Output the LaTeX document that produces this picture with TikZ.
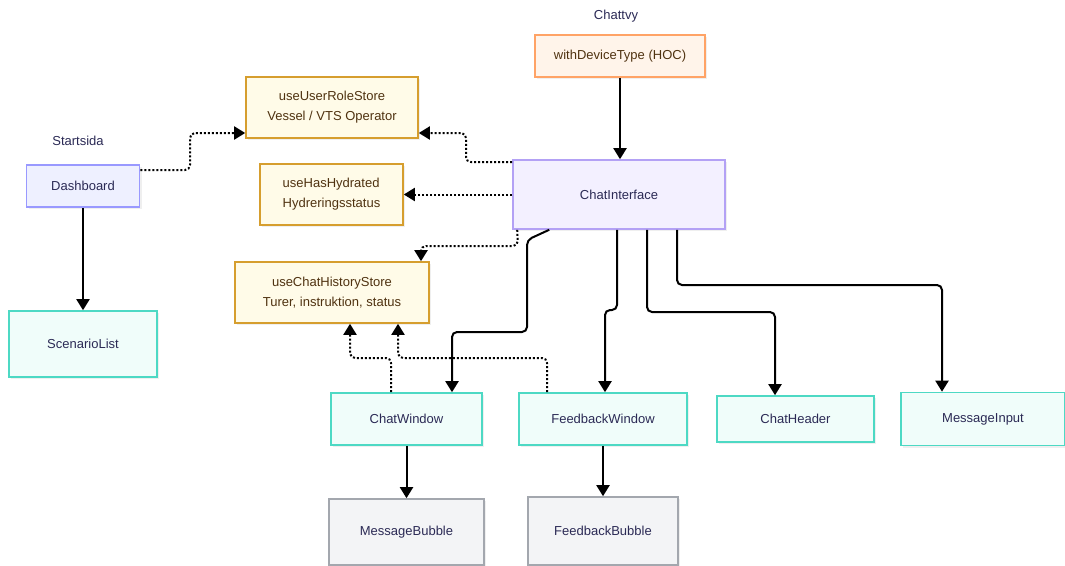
\documentclass[tikz,border=0pt]{standalone}
\usepackage{fontspec}
\setmainfont{Liberation Sans}
\usetikzlibrary{arrows.meta,shadows}
\definecolor{txt}{HTML}{2B2A55}
\definecolor{brown}{HTML}{4F3210}
\definecolor{orF}{HTML}{FFF4EA}\definecolor{orD}{HTML}{FFA366}
\definecolor{yeF}{HTML}{FFFBE8}\definecolor{yeD}{HTML}{D69E2E}
\definecolor{laF}{HTML}{F3F0FF}\definecolor{laD}{HTML}{B3A1F5}
\definecolor{blF}{HTML}{EEF0FF}\definecolor{blD}{HTML}{9999FF}
\definecolor{teF}{HTML}{F0FDFA}\definecolor{teD}{HTML}{4DD9C4}
\definecolor{grF}{HTML}{F3F4F6}\definecolor{grD}{HTML}{A3A7AE}
\tikzset{
  box/.style={draw, line width=1.6pt, inner sep=0pt, align=center, text=txt,
    font=\fontsize{13}{20}\selectfont,
    drop shadow={opacity=0.12, shadow xshift=2pt, shadow yshift=-2pt}},
  orbox/.style={box, fill=orF, draw=orD, text=brown},
  yebox/.style={box, fill=yeF, draw=yeD, text=brown},
  labox/.style={box, fill=laF, draw=laD},
  blbox/.style={box, fill=blF, draw=blD},
  tebox/.style={box, fill=teF, draw=teD},
  grbox/.style={box, fill=grF, draw=grD},
  lbl/.style={text=txt, font=\fontsize{13}{16}\selectfont},
  sol/.style={line width=2pt, rounded corners=5pt, -{Triangle[width=13pt,length=11pt]}},
  dot/.style={line width=2pt, dash pattern=on 2pt off 2pt, rounded corners=5pt,
    -{Triangle[width=13pt,length=11pt]}}
}
\begin{document}
\begin{tikzpicture}[x=1pt,y=-1pt]
\useasboundingbox[fill=white] (0,0) rectangle (1065,565);
% labels
\node[lbl] (lch) at (616,16) {Chattvy};
\node[lbl] (lst) at (78,141) {Startsida};
% nodes
\node[orbox, minimum width=170pt, minimum height=42pt] (wdt) at (620,56) {withDeviceType (HOC)};
\node[yebox, minimum width=172pt, minimum height=61pt] (urs) at (332,107.5) {useUserRoleStore\\Vessel / VTS Operator};
\node[yebox, minimum width=143pt, minimum height=61pt, align=left] (uhh) at (331.5,194.5) {useHasHydrated\\Hydreringsstatus};
\node[yebox, minimum width=194pt, minimum height=61pt] (uch) at (332,292.5) {useChatHistoryStore\\Turer, instruktion, status};
\node[blbox, minimum width=113pt, minimum height=42pt] (db) at (83,186) {Dashboard};
\node[tebox, minimum width=148pt, minimum height=66pt] (sl) at (83,344) {ScenarioList};
\node[labox, minimum width=212pt, minimum height=69pt] (ci) at (619,194.5) {ChatInterface};
\node[tebox, minimum width=151pt, minimum height=52pt] (cw) at (406.5,419) {ChatWindow};
\node[tebox, minimum width=168pt, minimum height=52pt] (fw) at (603,419) {FeedbackWindow};
\node[tebox, minimum width=157pt, minimum height=46pt] (ch) at (795.5,419) {ChatHeader};
\node[tebox, minimum width=164pt, minimum height=53pt] (mi) at (983,419) {MessageInput};
\node[grbox, minimum width=155pt, minimum height=66pt] (mb) at (406.5,532) {MessageBubble};
\node[grbox, minimum width=150pt, minimum height=68pt] (fb) at (603,531) {FeedbackBubble};
% solid edges
\draw[sol] (wdt.south) -- (wdt.south |- ci.north);
\draw[sol] (db.south) -- (db.south |- sl.north);
\draw[sol] ([xshift=37pt]ci.south west) -- (527,240) -- (527,332) -| ([xshift=45.5pt]cw.north);
\draw[sol] ([xshift=-2pt]ci.south) -- (617,310) -| ([xshift=2pt]fw.north);
\draw[sol] ([xshift=28pt]ci.south) -- (647,312) -| ([xshift=-20.5pt]ch.north);
\draw[sol] ([xshift=58pt]ci.south) -- (677,285) -| ([xshift=-41pt]mi.north);
\draw[sol] (cw.south) -- (mb.north);
\draw[sol] (fw.south) -- (fb.north);
% dotted edges
\draw[dot] ([yshift=16pt]db.east) -- (190,170) |- ([yshift=-25.5pt]urs.west);
\draw[dot] ([yshift=32.5pt]ci.west) -- (466,162) |- ([yshift=-25.5pt]urs.east);
\draw[dot] (ci.west) -- (uhh.east);
\draw[dot] ([xshift=5pt]ci.south west) -- (518,246) -| ([xshift=89pt]uch.north);
\draw[dot] ([xshift=-15.5pt]cw.north) -- (391,358) -| ([xshift=18pt]uch.south);
\draw[dot] ([xshift=-56pt]fw.north) -- (547,358) -| ([xshift=66pt]uch.south);
\end{tikzpicture}
\end{document}
